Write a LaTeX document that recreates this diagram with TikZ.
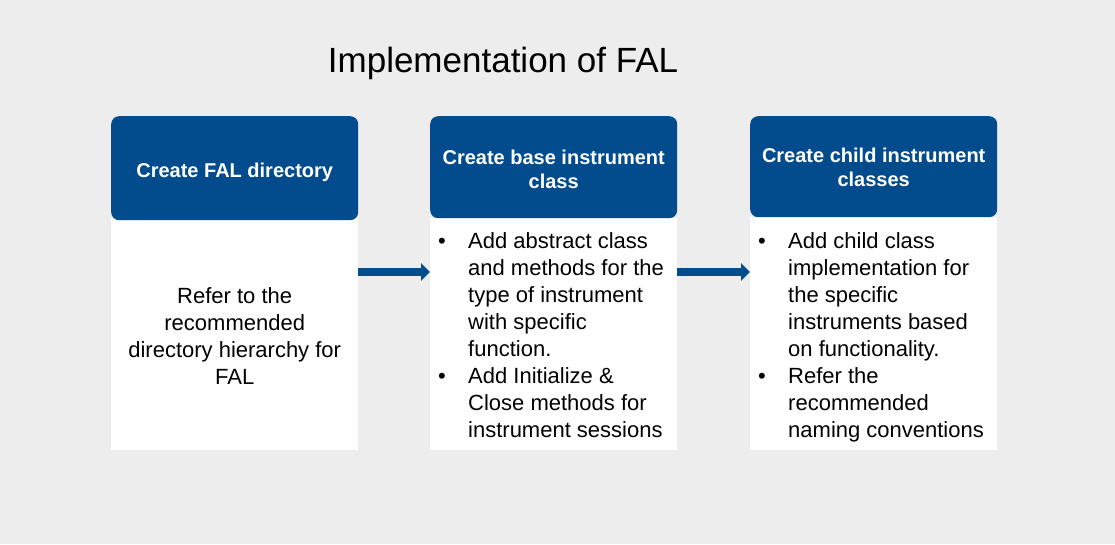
\documentclass[tikz,border=0pt]{standalone}
\usepackage{fontspec}
\setmainfont{Liberation Sans}
\usetikzlibrary{arrows.meta}
\definecolor{falblue}{HTML}{024C8D}
\definecolor{pagebg}{HTML}{EDEDED}
\begin{document}
\begin{tikzpicture}[x=1pt,y=-1pt,
  header/.style={fill=falblue, rounded corners=8pt, anchor=north west, inner sep=0pt,
    minimum width=247pt},
  hdrtext/.style={text=white, align=center, inner sep=0pt,
    font=\fontsize{20}{24}\selectfont\bfseries},
  body/.style={fill=white, anchor=north west, inner sep=0pt, minimum width=247pt},
  bodytext/.style={align=center, inner sep=0pt, font=\fontsize{22}{27}\selectfont},
  list/.style={anchor=north west, inner sep=0pt, font=\fontsize{22}{27}\selectfont},
  flow/.style={draw=falblue, line width=8pt, -{Triangle[length=9pt,width=17pt]}}]
  % page background fixes the picture size
  \fill[pagebg] (0,0) rectangle (1115,544);
  \useasboundingbox (0,0) rectangle (1115,544);

  \node[anchor=base, font=\fontsize{35}{40}\selectfont] (title) at (503,72) {Implementation of FAL};

  % white bodies under the blue headers
  \node[body, minimum height=232pt,
    label={[bodytext, yshift=-2pt]center:Refer to the\\recommended\\directory hierarchy for\\FAL}]
    (b1) at (111,218) {};
  \node[body, minimum height=232pt] (b2) at (430,218) {};
  \node[body, minimum height=233pt] (b3) at (750,217) {};

  \node[header, minimum height=104pt,
    label={[hdrtext, yshift=-4pt]center:Create FAL directory}] (h1) at (111,116) {};
  \node[header, minimum height=102pt,
    label={[hdrtext, yshift=-2pt]center:Create base instrument\\class}] (h2) at (430,116) {};
  \node[header, minimum height=101pt,
    label={[hdrtext, yshift=-1pt]center:Create child instrument\\classes}] (h3) at (750,116) {};

  % bullet lists
  \node[list] (l2) at (438,229) {%
    \begin{tabular}{@{}p{30pt}@{}l@{}}
      \textbullet & Add abstract class\\
       & and methods for the\\
       & type of instrument\\
       & with specific\\
       & function.\\
      \textbullet & Add Initialize \&\\
       & Close methods for\\
       & instrument sessions
    \end{tabular}};
  \node[list] (l3) at (758,229) {%
    \begin{tabular}{@{}p{30pt}@{}l@{}}
      \textbullet & Add child class\\
       & implementation for\\
       & the specific\\
       & instruments based\\
       & on functionality.\\
      \textbullet & Refer the\\
       & recommended\\
       & naming conventions
    \end{tabular}};

  % flow arrows between the steps
  \draw[flow] ([yshift=-54pt]b1.north east) -- ([yshift=-54pt]b2.north west);
  \draw[flow] ([yshift=-54pt]b2.north east) -- ([yshift=-55pt]b3.north west);
\end{tikzpicture}
\end{document}
